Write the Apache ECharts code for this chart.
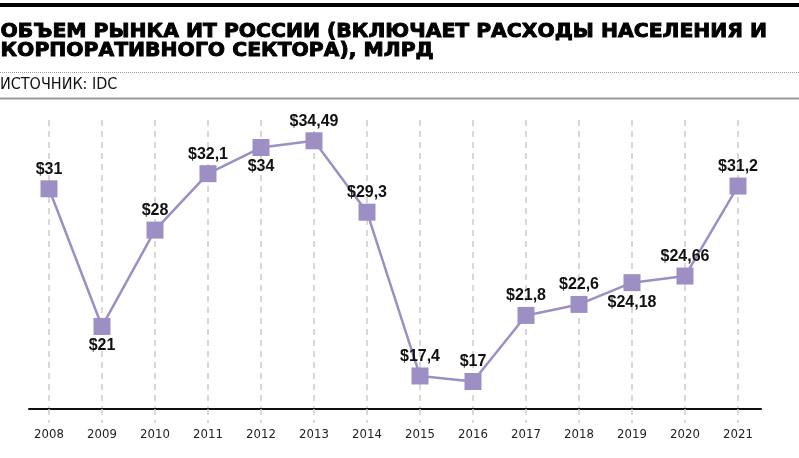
<!DOCTYPE html>
<html><head><meta charset="utf-8">
<script src="https://cdn.jsdelivr.net/npm/echarts@6/dist/echarts.min.js"></script>
<style>html,body{margin:0;padding:0;background:#fff}#c{width:799px;height:458px}</style>
</head><body><div id="c"></div>
<script>
const titleLines = ['ОБЪЕМ РЫНКА ИТ РОССИИ (ВКЛЮЧАЕТ РАСХОДЫ НАСЕЛЕНИЯ И', 'КОРПОРАТИВНОГО СЕКТОРА), МЛРД'];
const sourceText = 'ИСТОЧНИК: IDC';
const years = ['2008','2009','2010','2011','2012','2013','2014','2015','2016','2017','2018','2019','2020','2021'];
const values = [31, 21, 28, 32.1, 34, 34.49, 29.3, 17.4, 17, 21.8, 22.6, 24.18, 24.66, 31.2];
const labelPos = ['top','bottom','top','top','bottom','top','top','top','top','top','top','bottom','top','top'];

const chart = echarts.init(document.getElementById('c'), null, {renderer:'canvas'});
const purple = '#9d8fc4';
const narrow = '"Liberation Sans Narrow","DejaVu Sans Condensed","Roboto",sans-serif';
chart.setOption({
  animation:false,
  backgroundColor:'#fff',
  graphic:[
    {type:'rect', shape:{x:0,y:3,width:799,height:4}, style:{fill:'#000'}},
    {type:'text', x:0.5, y:22, scaleX:1.07, style:{text:titleLines.join('\n'), font:'bold 19px "DejaVu Sans", sans-serif', lineHeight:19.5, fill:'#000', stroke:'#000', lineWidth:0.9}},
    {type:'line', shape:{x1:0,y1:72.5,x2:799,y2:72.5}, style:{stroke:'#999', lineWidth:1, lineDash:[1,1]}},
    {type:'text', left:0, top:77, style:{text:sourceText, font:'16px '+narrow, fill:'#111'}},
    {type:'line', shape:{x1:0,y1:98.5,x2:799,y2:98.5}, style:{stroke:'#999', lineWidth:2}}
  ],
  grid:[
    {left:49, right:61, top:120, bottom:49},
    {left:29, right:38, top:120, bottom:49}
  ],
  xAxis:[{
    type:'category', data:years, boundaryGap:false, gridIndex:0,
    axisLine:{show:false},
    axisTick:{show:true, length:14, lineStyle:{color:'#ccc', type:[6,5], width:1.5}},
    axisLabel:{color:'#222', fontSize:13, fontFamily:narrow, margin:19},
    splitLine:{show:true, lineStyle:{color:'#ccc', type:[6,5], width:1.5}}
  },{
    type:'value', gridIndex:1, min:0, max:1,
    axisLine:{show:true, lineStyle:{color:'#111', width:2}},
    axisTick:{show:false}, axisLabel:{show:false}, splitLine:{show:false}
  }],
  yAxis:[
    {type:'value', min:15, max:36, show:false, splitLine:{show:false}, gridIndex:0},
    {type:'value', min:0, max:1, show:false, splitLine:{show:false}, gridIndex:1}
  ],
  series:[{
    type:'line', xAxisIndex:0, yAxisIndex:0, z:5,
    data:values.map((v,i)=>({value:v, label:{position:labelPos[i]}})),
    symbol:'rect', symbolSize:17,
    lineStyle:{color:purple, width:2.5},
    itemStyle:{color:purple},
    label:{show:true, distance:3, color:'#111', fontSize:16, fontWeight:'bold', fontFamily:'"Liberation Sans", Arial, sans-serif',
      formatter:p=>'$'+String(p.value).replace('.',',')}
  }]
});
</script></body></html>
